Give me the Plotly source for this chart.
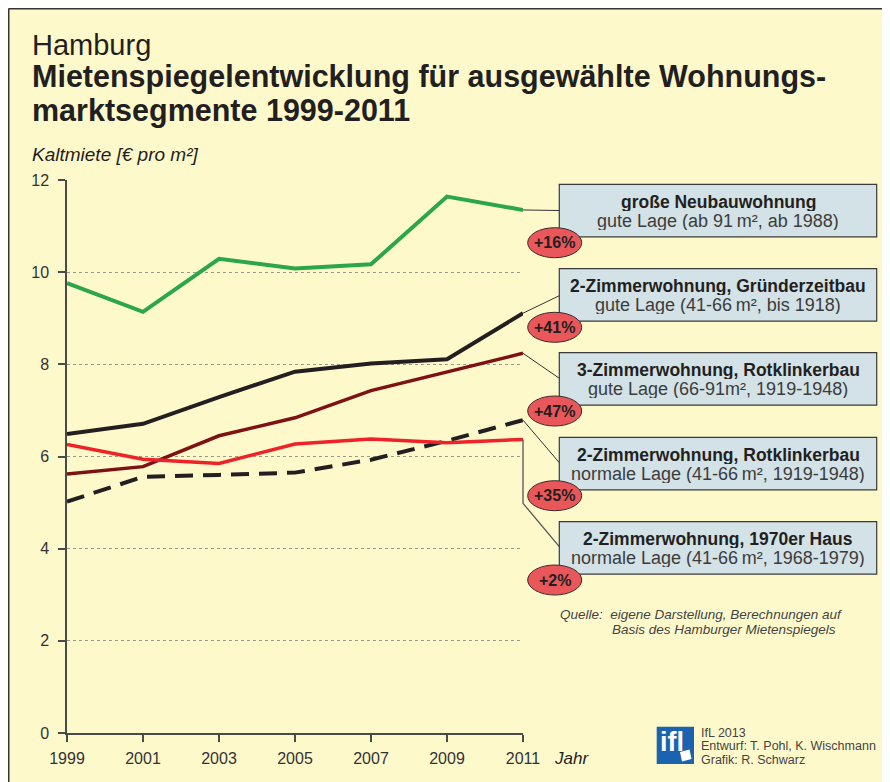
import plotly.graph_objects as go

# ---------------- data ----------------
years = [1999, 2001, 2003, 2005, 2007, 2009, 2011]
gross_neubau = [9.76, 9.14, 10.29, 10.08, 10.17, 11.64, 11.35]
zwei_gruenderzeit = [6.49, 6.71, 7.29, 7.84, 8.02, 8.11, 9.11]
drei_rotklinker = [5.62, 5.78, 6.45, 6.84, 7.43, 7.84, 8.24]
zwei_rotklinker_normal = [5.02, 5.56, 5.60, 5.65, 5.93, 6.34, 6.79]
zwei_1970er = [6.26, 5.94, 5.85, 6.27, 6.38, 6.30, 6.37]

y_ticks = [0, 2, 4, 6, 8, 10, 12]
x_ticks = [1999, 2001, 2003, 2005, 2007, 2009, 2011]

box_titles = ["große Neubauwohnung",
              "2-Zimmerwohnung, Gründerzeitbau",
              "3-Zimmerwohnung, Rotklinkerbau",
              "2-Zimmerwohnung, Rotklinkerbau",
              "2-Zimmerwohnung, 1970er Haus"]
box_subtitles = ["gute Lage (ab 91\u2009m², ab 1988)",
                 "gute Lage (41-66\u2009m², bis 1918)",
                 "gute Lage (66-91m², 1919-1948)",
                 "normale Lage (41-66\u2009m², 1919-1948)",
                 "normale Lage (41-66\u2009m², 1968-1979)"]
changes = ["+16%", "+41%", "+47%", "+35%", "+2%"]

# ---------------- layout helpers ----------------
OFF = 8                      # page body margin
W, H = 890, 782
L, R, T, B = 67 - OFF, 523 - OFF, 180 - OFF, 733 - OFF   # plot area in figure pixels


def PX(px):  # px measured in window coordinates
    return (px - OFF - L) / (R - L)


def PY(py):
    return (B - (py - OFF)) / (B - T)


YMAX = 12.0

BG = "#FEF9CB"
TXT = "#231F20"
GRAY = "#3C3C3C"
FAM = "Liberation Sans, Arial"

series = [
    (gross_neubau, "#2BA64A", 4, "solid"),
    (zwei_gruenderzeit, "#231F20", 4, "solid"),
    (drei_rotklinker, "#7D1114", 3.5, "solid"),
    (zwei_rotklinker_normal, "#231F20", 4, "18px,10px"),
    (zwei_1970er, "#EE2229", 3.5, "solid"),
]

fig = go.Figure()
for vals, col, w, dash in series:
    fig.add_trace(go.Scatter(x=years, y=vals, mode="lines",
                             line=dict(color=col, width=w, dash=dash),
                             showlegend=False, hoverinfo="skip"))

shapes = []
ann = []

# frame line along top and left edge of the figure
shapes.append(dict(type="line", xref="paper", yref="paper",
                   x0=PX(OFF + 0.5), x1=PX(W + 20), y0=PY(OFF + 0.5), y1=PY(OFF + 0.5),
                   line=dict(color="#333", width=2)))
shapes.append(dict(type="line", xref="paper", yref="paper",
                   x0=PX(OFF + 0.5), x1=PX(OFF + 0.5), y0=PY(OFF + 0.5), y1=PY(H + 20),
                   line=dict(color="#333", width=2)))

# label boxes
box_x0, box_x1 = 559.3, 876.7
box_tops = [184.3, 268.7, 352.7, 437.3, 521.7]
box_h = 52.5
conn_targets = [210.5, 295.7, 378.3, 462.7, 546.7]
ell_cy = [242.7, 327.3, 411.0, 495.7, 580.0]

for i, vals in enumerate([s[0] for s in series]):
    y_end = vals[-1] / YMAX
    if i < 4:
        shapes.append(dict(type="line", xref="paper", yref="paper",
                           x0=1.0, y0=y_end, x1=PX(box_x0), y1=PY(conn_targets[i]),
                           line=dict(color="#333", width=1)))
    else:
        shapes.append(dict(type="path", xref="paper", yref="paper",
                           path=f"M 1.0,{y_end} L 1.0,{PY(503.3)} L {PX(box_x0)},{PY(conn_targets[i])}",
                           line=dict(color="#555", width=1.3)))

for i in range(5):
    t = box_tops[i]
    shapes.append(dict(type="rect", xref="paper", yref="paper",
                       x0=PX(box_x0), x1=PX(box_x1), y0=PY(t + box_h), y1=PY(t),
                       fillcolor="#D3E2E6", line=dict(color="#3A3A3A", width=1.2)))
    cx = (box_x0 + box_x1) / 2
    ann.append(dict(x=PX(cx), y=PY(t + 17.5), text=f"<b>{box_titles[i]}</b>",
                    font=dict(size=17.5, color=TXT, family=FAM), height=18,
                    xanchor="center", yanchor="middle"))
    ann.append(dict(x=PX(cx), y=PY(t + 36.5), text=box_subtitles[i],
                    font=dict(size=18, color=GRAY, family=FAM), height=18,
                    xanchor="center", yanchor="middle"))

for i in range(5):
    cy = ell_cy[i]
    shapes.append(dict(type="circle", xref="paper", yref="paper",
                       x0=PX(527.7), x1=PX(581.7), y0=PY(cy + 15), y1=PY(cy - 15),
                       fillcolor="#E9575A", line=dict(color="#3A2A2A", width=1)))
    ann.append(dict(x=PX(554.7), y=PY(cy), text=f"<b>{changes[i]}</b>",
                    font=dict(size=16, color=TXT, family=FAM),
                    xanchor="center", yanchor="middle"))

# titles
ann.append(dict(x=PX(30), y=PY(45), text="Hamburg",
                font=dict(size=29, color=TXT, family=FAM),
                xanchor="left", yanchor="middle"))
ann.append(dict(x=PX(30), y=PY(77), text="<b>Mietenspiegelentwicklung für ausgewählte Wohnungs-</b>",
                font=dict(size=30.5, color=TXT, family=FAM),
                xanchor="left", yanchor="middle"))
ann.append(dict(x=PX(30), y=PY(110), text="<b>marktsegmente 1999-2011</b>",
                font=dict(size=30.5, color=TXT, family=FAM),
                xanchor="left", yanchor="middle"))
ann.append(dict(x=PX(30), y=PY(154), text="<i>Kaltmiete [€ pro m²]</i>",
                font=dict(size=19, color=TXT, family=FAM),
                xanchor="left", yanchor="middle"))
ann.append(dict(x=PX(552), y=PY(758.5), text="<i>Jahr</i>",
                font=dict(size=17, color=TXT, family=FAM),
                xanchor="left", yanchor="middle"))

# source
ann.append(dict(x=PX(558), y=PY(614.3), text="<i>Quelle:  eigene Darstellung, Berechnungen auf</i>",
                font=dict(size=13.5, color="#444", family=FAM),
                xanchor="left", yanchor="middle"))
ann.append(dict(x=PX(610), y=PY(629.5), text="<i>Basis des Hamburger Mietenspiegels</i>",
                font=dict(size=13.5, color="#444", family=FAM),
                xanchor="left", yanchor="middle"))

# logo
shapes.append(dict(type="rect", xref="paper", yref="paper",
                   x0=PX(656.7), x1=PX(694), y0=PY(764), y1=PY(726.7),
                   fillcolor="#1B63B1", line=dict(width=0)))
shapes.append(dict(type="path", xref="paper", yref="paper",
                   path=f"M {PX(680)},{PY(752)} L {PX(689.5)},{PY(749.5)} L {PX(691.5)},{PY(759)} L {PX(682)},{PY(761.5)} Z",
                   fillcolor="white", line=dict(width=0)))
ann.append(dict(x=PX(658), y=PY(742), text="<b>ifl</b>",
                font=dict(size=27, color="white", family="Liberation Sans Narrow, Liberation Sans, Arial"),
                xanchor="left", yanchor="middle"))
for k, line in enumerate(["IfL 2013", "Entwurf: T. Pohl, K. Wischmann", "Grafik: R. Schwarz"]):
    ann.append(dict(x=PX(699), y=PY(732.5 + 13.7 * k), text=line,
                    font=dict(size=12.5, color="#444", family=FAM), height=12,
                    xanchor="left", yanchor="middle"))

for a in ann:
    a.update(xref="paper", yref="paper", showarrow=False)

fig.update_layout(
    width=W, height=H,
    margin=dict(l=L, r=W - R, t=T, b=H - B, pad=0),
    paper_bgcolor=BG, plot_bgcolor="rgba(0,0,0,0)",
    shapes=shapes, annotations=ann,
    font=dict(family=FAM, color="#333"),
    xaxis=dict(range=[1999, 2011], tickvals=x_ticks, ticktext=[str(v) for v in x_ticks],
               showgrid=False, zeroline=False, showline=True, linecolor="#4A4A4A", linewidth=1.5,
               ticks="outside", ticklen=7, tickwidth=1.5, tickcolor="#4A4A4A",
               tickfont=dict(size=16, color="#333"), ticklabelstandoff=3, fixedrange=True),
    yaxis=dict(range=[0, 12], tickvals=y_ticks, ticktext=[str(v) for v in y_ticks],
               showgrid=True, gridcolor="#9A9A8A", gridwidth=1, griddash="dot",
               zeroline=False, showline=True, linecolor="#4A4A4A", linewidth=1.5,
               ticks="outside", ticklen=7, tickwidth=1.5, tickcolor="#4A4A4A",
               tickfont=dict(size=16, color="#333"), ticklabelstandoff=6, fixedrange=True),
)

fig.write_html("out.html")
